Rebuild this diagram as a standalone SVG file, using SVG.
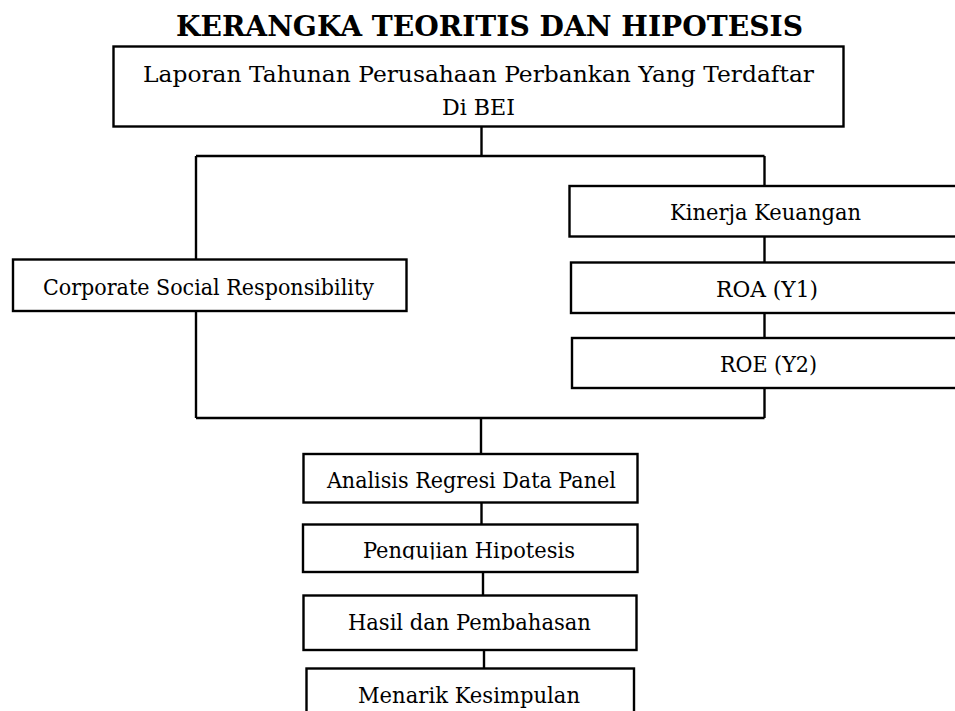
<svg xmlns="http://www.w3.org/2000/svg" width="955" height="711" viewBox="0 0 955 711">
  <style>
    .box { fill: #ffffff; stroke: #000000; stroke-width: 2.4; }
    .conn { fill: none; stroke: #000000; stroke-width: 2.4; }
    .lbl { font-family: "DejaVu Serif", "Liberation Serif", serif; font-size: 23px; fill: #000000; text-anchor: middle; }
    .title { font-family: "DejaVu Serif", "Liberation Serif", serif; font-size: 28px; font-weight: bold; fill: #000000; text-anchor: middle; }
  </style>
  <defs>
    <clipPath id="clipPeng">
      <rect x="300" y="520" width="340" height="39.5"/>
    </clipPath>
  </defs>
  <rect x="0" y="0" width="955" height="711" fill="#ffffff"/>

  <text id="title" class="title" x="489.5" y="36" textLength="627" lengthAdjust="spacingAndGlyphs">KERANGKA TEORITIS DAN HIPOTESIS</text>

  <g id="connectors">
    <path class="conn" d="M481.5 126 V156"/>
    <path class="conn" d="M196 156 H764.5"/>
    <path class="conn" d="M196 156 V259.5"/>
    <path class="conn" d="M196 311 V418"/>
    <path class="conn" d="M764.5 156 V186"/>
    <path class="conn" d="M764.5 236.5 V262.5"/>
    <path class="conn" d="M764.5 313 V338"/>
    <path class="conn" d="M764.5 388 V418"/>
    <path class="conn" d="M196 418 H764.5"/>
    <path class="conn" d="M481 418 V454"/>
    <path class="conn" d="M481.5 502.5 V524.5"/>
    <path class="conn" d="M483 572 V595.5"/>
    <path class="conn" d="M484 650 V668.5"/>
  </g>

  <g id="laporan">
    <rect class="box" x="113.5" y="46.5" width="730" height="80"/>
    <text class="lbl" x="478.5" y="82" textLength="671" lengthAdjust="spacingAndGlyphs">Laporan Tahunan Perusahaan Perbankan Yang Terdaftar</text>
    <text class="lbl" x="478.5" y="115" textLength="73" lengthAdjust="spacingAndGlyphs">Di BEI</text>
  </g>

  <g id="csr">
    <rect class="box" x="13" y="259.5" width="393.5" height="51.5"/>
    <text class="lbl" x="208.4" y="294.5" textLength="331" lengthAdjust="spacingAndGlyphs">Corporate Social Responsibility</text>
  </g>

  <g id="kinerja">
    <rect class="box" x="569.5" y="186" width="400" height="50.5"/>
    <text class="lbl" x="765.5" y="220" textLength="191" lengthAdjust="spacingAndGlyphs">Kinerja Keuangan</text>
  </g>

  <g id="roa">
    <rect class="box" x="571" y="262.5" width="400" height="50.5"/>
    <text class="lbl" x="767" y="297" textLength="102" lengthAdjust="spacingAndGlyphs">ROA (Y1)</text>
  </g>

  <g id="roe">
    <rect class="box" x="572" y="338" width="400" height="50"/>
    <text class="lbl" x="768.5" y="372" textLength="97" lengthAdjust="spacingAndGlyphs">ROE (Y2)</text>
  </g>

  <g id="analisis">
    <rect class="box" x="303.5" y="454" width="334" height="48.5"/>
    <text class="lbl" x="471.4" y="488" textLength="289" lengthAdjust="spacingAndGlyphs">Analisis Regresi Data Panel</text>
  </g>

  <g id="pengujian">
    <rect class="box" x="303" y="524.5" width="334.5" height="47.5"/>
    <text class="lbl" x="468.9" y="558" textLength="212" lengthAdjust="spacingAndGlyphs" clip-path="url(#clipPeng)">Pengujian Hipotesis</text>
  </g>

  <g id="hasil">
    <rect class="box" x="303.5" y="595.5" width="333" height="54.5"/>
    <text class="lbl" x="469.4" y="630" textLength="243" lengthAdjust="spacingAndGlyphs">Hasil dan Pembahasan</text>
  </g>

  <g id="menarik">
    <rect class="box" x="306.5" y="668.5" width="327.5" height="60"/>
    <text class="lbl" x="469" y="703" textLength="222" lengthAdjust="spacingAndGlyphs">Menarik Kesimpulan</text>
  </g>
</svg>
